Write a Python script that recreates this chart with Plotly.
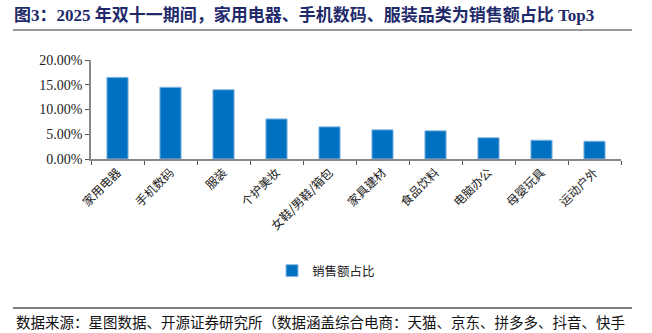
import plotly.graph_objects as go

categories = ["家用电器", "手机数码", "服装", "个护美妆", "女鞋/男鞋/箱包",
              "家具建材", "食品饮料", "电脑办公", "母婴玩具", "运动户外"]
share = [0.165, 0.145, 0.140, 0.081, 0.065, 0.059, 0.057, 0.043, 0.038, 0.036]
y_ticks = [0, 0.05, 0.10, 0.15, 0.20]

W, H = 652, 333
L, R, T, B = 91, 31, 60, 174
pw, ph = W - L - R, H - T - B


def px(x):
    return (x - L) / pw


def py(y):
    return (H - B - y) / ph


CJK = "Noto Sans CJK SC"
SERIF = "Liberation Serif"
MIXED = "Liberation Serif, Noto Sans CJK SC"

fig = go.Figure()
fig.add_trace(go.Bar(
    x=categories, y=share, name="销售额占比",
    marker=dict(color="#0070C0", line=dict(color="#8FBCE6", width=1)),
    width=0.4,
))

fig.update_layout(
    width=W, height=H,
    margin=dict(l=L, r=R, t=T, b=B),
    plot_bgcolor="white", paper_bgcolor="white",
    showlegend=True,
    legend=dict(orientation="h", x=px(272), xanchor="left", y=py(271), yanchor="middle",
                font=dict(family=CJK, size=12.5, color="#222"),
                itemwidth=30),
)
fig.update_xaxes(
    showline=True, linecolor="#888", linewidth=1.5,
    ticks="outside", ticklen=4, tickcolor="#555", tickson="boundaries",
    tickangle=-45, tickfont=dict(family=CJK, size=12, color="#222"),
    showgrid=False,
)
fig.update_yaxes(
    range=[0, 0.2], tickvals=y_ticks, tickformat=".2%",
    showline=True, linecolor="#888", linewidth=1.5,
    ticks="outside", ticklen=4, tickcolor="#555",
    tickfont=dict(family=SERIF, size=14, color="#222"),
    showgrid=False, zeroline=False,
)

# heading and rules
fig.add_annotation(
    text="<b>图3：2025 年双十一期间，家用电器、手机数码、服装品类为销售额占比 Top3</b>",
    xref="paper", yref="paper", x=px(12), y=py(15), xanchor="left", yanchor="middle",
    showarrow=False, font=dict(family=MIXED, size=17, color="#1F2A6B"),
)
fig.add_shape(type="line", xref="paper", yref="paper",
              x0=px(13), x1=px(632), y0=py(30), y1=py(30),
              line=dict(color="#777", width=1.5))
fig.add_shape(type="line", xref="paper", yref="paper",
              x0=px(13), x1=px(632), y0=py(308), y1=py(308),
              line=dict(color="#555", width=1.5))
fig.add_annotation(
    text="数据来源：星图数据、开源证券研究所（数据涵盖综合电商：天猫、京东、拼多多、抖音、快手",
    xref="paper", yref="paper", x=px(14), y=py(321), xanchor="left", yanchor="middle",
    showarrow=False, font=dict(family=CJK, size=14.5, color="#111"),
)

fig.write_html("out.html")
